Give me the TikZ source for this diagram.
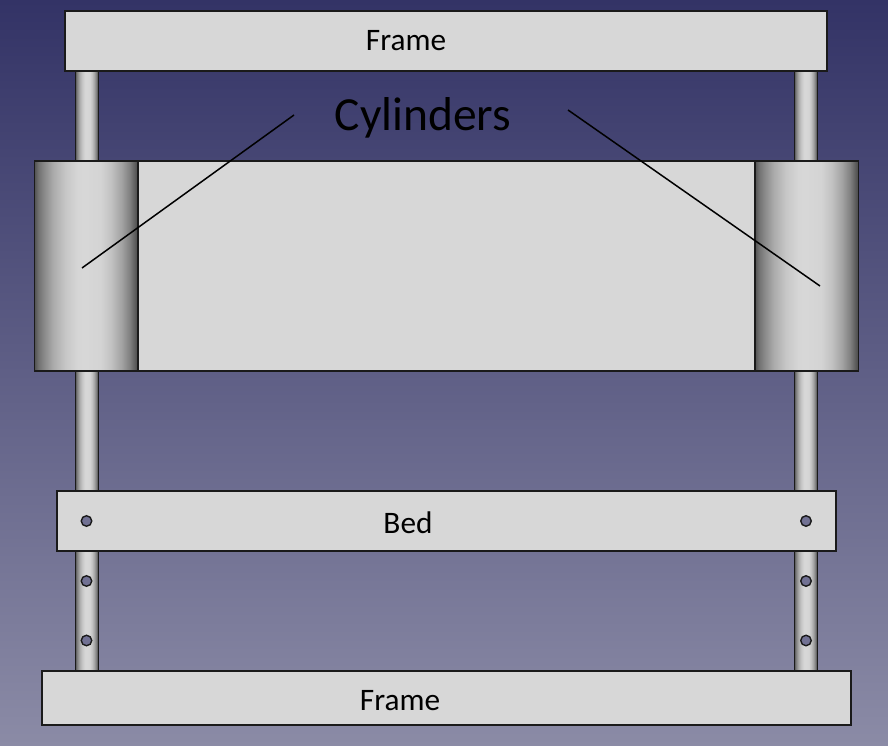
\documentclass[tikz,border=0pt]{standalone}
\usepackage{fontspec}
\setmainfont{Carlito}
\definecolor{bgtop}{HTML}{333366}
\definecolor{bgbot}{HTML}{8B8BA6}
\definecolor{plate}{HTML}{D7D7D7}
\definecolor{edge}{HTML}{1A1A1A}
\pgfdeclareverticalshading{bgshade}{100bp}{color(0bp)=(bgbot); color(25bp)=(bgbot); color(75bp)=(bgtop); color(100bp)=(bgtop)}
\pgfdeclarehorizontalshading{cylshade}{100bp}{color(0bp)=(black!68!white); color(25bp)=(black!68!white);
 color(27bp)=(black!55!white); color(30bp)=(black!45!white); color(34bp)=(black!33!white); color(40bp)=(black!22!white); color(46bp)=(black!16!white); color(50bp)=(plate);
 color(57bp)=(black!17!white); color(62bp)=(black!24!white); color(67bp)=(black!36!white); color(71bp)=(black!50!white); color(75bp)=(black!72!white); color(100bp)=(black!72!white)}
\tikzset{
  x=1pt,y=-1pt,
  rod/.style={draw=edge,line width=1pt,shading=cylshade,shading angle=0},
  holdot/.style={circle,draw=edge,line width=1.4pt,fill=bgbot!70!bgtop,minimum size=10.5pt,inner sep=0pt},
  lbl/.style={font=\fontsize{31.3}{36}\selectfont,text=black,inner sep=0pt},
  bigl/.style={font=\fontsize{47.5}{54}\selectfont,text=black,inner sep=0pt},
  leader/.style={draw=black,line width=1.5pt}
}
\begin{document}
\begin{tikzpicture}
\useasboundingbox (0,0) rectangle (888,746);
\shade[shading=bgshade] (0,0) rectangle (888,746);
% rods
\path[rod] (75.5,65) rectangle (98,675);
\path[rod] (794.5,65) rectangle (817,675);
% plates
\draw[draw=edge,line width=1.5pt,fill=plate] (65,11) rectangle (827,71);
\draw[draw=edge,line width=1.5pt,fill=plate] (57,491) rectangle (836,551);
\draw[draw=edge,line width=1.5pt,fill=plate] (42,671) rectangle (851,725);
% carriage
\draw[draw=edge,line width=1.5pt,fill=plate] (138,161) rectangle (755,371);
\path[draw=edge,line width=1.5pt,shading=cylshade,shading angle=0] (34.5,161) rectangle (138,371);
\path[draw=edge,line width=1.5pt,shading=cylshade,shading angle=0] (755,161) rectangle (858.5,371);
% holes
\node[holdot] (h1) at (86.5,521) {};
\node[holdot] (h2) at (86.5,581) {};
\node[holdot] (h3) at (86.5,640.5) {};
\node[holdot] (h4) at (806,521) {};
\node[holdot] (h5) at (806,581) {};
\node[holdot] (h6) at (806,640.5) {};
% labels
\node[lbl] (frametop) at (406,40.5) {Frame};
\node[bigl] (cyl) at (423,118) {Cylinders};
\node[lbl] (bed) at (408,522.5) {Bed};
\node[lbl] (framebot) at (400,700.5) {Frame};
% leaders
\coordinate (la) at (294,115);
\coordinate (lb) at (82,268);
\coordinate (ra) at (568,110);
\coordinate (rb) at (820,286);
\draw[leader] (la) -- (lb);
\draw[leader] (ra) -- (rb);
\end{tikzpicture}
\end{document}
